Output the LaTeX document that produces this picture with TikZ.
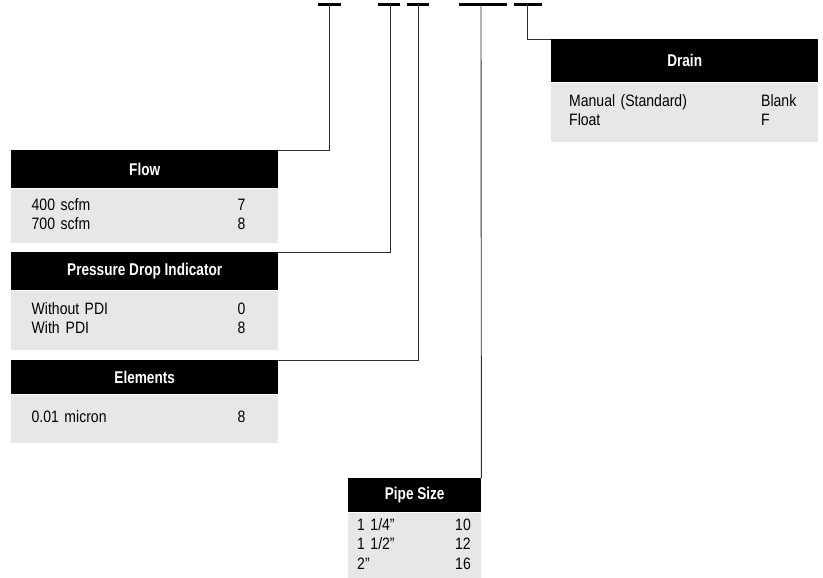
\documentclass[tikz,border=0pt]{standalone}
\usepackage{fontspec}
\setmainfont{Liberation Sans}
\newfontfamily\bodyfont{Liberation Sans}[FakeStretch=0.85]
\newfontfamily\headfont{Liberation Sans}[FakeStretch=0.8]
\definecolor{ocBody}{HTML}{E6E7E9}
\definecolor{ocLine}{HTML}{2E2E2E}
\usetikzlibrary{positioning}

\begin{document}
\begin{tikzpicture}[x=1pt, y=-1pt,
  head/.style={fill=black, text=white, inner sep=0pt, anchor=north west,
    font=\headfont\bfseries\fontsize{17}{19}\selectfont},
  body/.style={fill=ocBody, inner ysep=0pt, align=left,
    font=\bodyfont\fontsize{16.5}{19.5}\selectfont},
  bar/.style={line width=2.6pt},
  lead/.style={draw=ocLine, line width=0.9pt}
]
  \useasboundingbox (0,0) rectangle (823,578);

  % code positions on top
  \draw[bar] (318,4.5) -- (341,4.5);
  \draw[bar] (378,4.5) -- (400,4.5);
  \draw[bar] (407,4.5) -- (429,4.5);
  \draw[bar] (459,4.5) -- (507,4.5);
  \draw[bar] (514,4.5) -- (542,4.5);
  \coordinate (t1) at (329,4.5);
  \coordinate (t2) at (390,4.5);
  \coordinate (t3) at (418,4.5);
  \coordinate (t4) at (481,4.5);
  \coordinate (t5) at (527,4.5);

  % Flow
  \node[head, minimum width=267pt, minimum height=38pt] (flowhead) at (11,150) {Flow};
  \node[body, below=0pt of flowhead, inner xsep=20.5pt, text width=226pt,
    minimum height=54.5pt] (flowbody) {%
    \begin{tabular}{@{}p{206pt}@{}l@{}}
      400 scfm & 7\\
      700 scfm & 8
    \end{tabular}};

  % Pressure drop indicator
  \node[head, minimum width=267pt, minimum height=38pt] (pdihead) at (11,252) {Pressure Drop Indicator};
  \node[body, below=0pt of pdihead, inner xsep=20.5pt, text width=226pt,
    minimum height=59pt] (pdibody) {%
    \begin{tabular}{@{}p{206pt}@{}l@{}}
      Without PDI & 0\\
      With\hspace{6pt}PDI & 8
    \end{tabular}};

  % Elements
  \node[head, minimum width=267pt, minimum height=34pt] (elemhead) at (11,360) {Elements};
  \node[body, below=0pt of elemhead, inner xsep=20.5pt, text width=226pt,
    minimum height=48pt] (elembody) {%
    \begin{tabular}{@{}p{206pt}@{}l@{}}
      0.01 micron & 8
    \end{tabular}};

  % Pipe size
  \node[head, minimum width=133pt, minimum height=34pt] (pipehead) at (348,478) {Pipe Size};
  \node[body, below=0pt of pipehead, inner xsep=9pt, text width=115pt,
    minimum height=66pt] (pipebody) {%
    \begin{tabular}{@{}p{98pt}@{}l@{}}
      1 1/4” & 10\\
      1 1/2” & 12\\
      2” & 16
    \end{tabular}};

  % Drain
  \node[head, minimum width=267pt, minimum height=43pt] (drainhead) at (551,39) {Drain};
  \node[body, below=0pt of drainhead, inner xsep=18pt, text width=231pt,
    minimum height=59pt] (drainbody) {%
    \begin{tabular}{@{}p{192pt}@{}l@{}}
      Manual (Standard) & Blank\\
      Float & F
    \end{tabular}};

  % leaders
  \draw[lead] (t1) |- (flowhead.north east);
  \draw[lead] (t2) |- (pdihead.north east);
  \draw[lead] (t3) |- (elemhead.north east);
  \draw[lead] (t4) -- (pipehead.north east);
  \draw[lead] (t5) |- (drainhead.north west);
\end{tikzpicture}
\end{document}
